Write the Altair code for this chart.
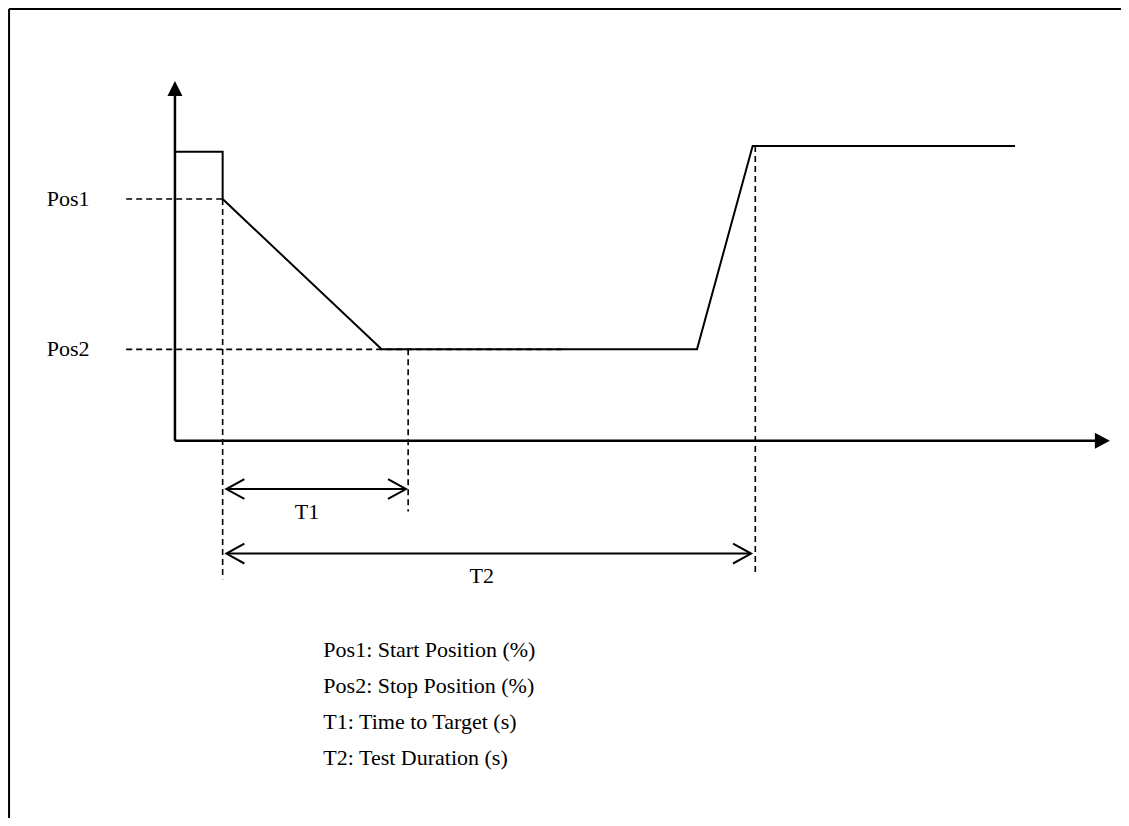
import altair as alt
import pandas as pd

# Diagram units: x = time (s), y = position (%)
X_DOMAIN = [-31.5, 178.5]
Y_DOMAIN = [-128.0, 146.8]

# signal trace
sig_t = [0, 9, 9, 39, 98.5, 109, 158.5]
sig_p = [98, 98, 82, 31, 31, 100, 100]

# solid rules: axes and frame
solid_x1 = [0, 0, -31.3, -31.3]
solid_x2 = [0, 174, 178.5, -31.3]
solid_y1 = [0, 0, 146.5, 146.5]
solid_y2 = [118, 0, 146.5, -128]
solid_w = [2.5, 2.5, 2, 2]

# dashed guide lines
dash_x1 = [-9.2, -9.2, 9, 44, 109.5]
dash_x2 = [9, 73, 9, 44, 109.5]
dash_y1 = [82, 31, 82, 31, 100]
dash_y2 = [82, 31, -47, -24, -44.5]

# axis arrowheads
head_x = [0, 176.4]
head_y = [122, 0]
head_shape = ["M0,0 L0.5,1 L-0.5,1 Z", "M0,0 L-1,-0.53 L-1,0.53 Z"]

# dimension arrows T1, T2
dim_y = [-16.4, -38.3]
dim_start = [9.7, 9.7]
dim_end = [43.6, 108.7]

# labels
lab_text = ["Pos1", "Pos2", "T1", "T2"]
lab_x = [-24.2, -24.2, 24.9, 57.9]
lab_y = [82, 31, -24.2, -45.9]
lab_align = ["left", "left", "center", "center"]

legend_text = [
    "Pos1: Start Position (%)",
    "Pos2: Stop Position (%)",
    "T1: Time to Target (s)",
    "T2: Test Duration (s)",
]
legend_x = 28.0
legend_y = [-71.0, -83.2, -95.5, -107.7]

FONT = "Liberation Serif"
FS = 22

xs = alt.Scale(domain=X_DOMAIN, nice=False, zero=False)
ys = alt.Scale(domain=Y_DOMAIN, nice=False, zero=False)

sig = pd.DataFrame({"t": sig_t, "p": sig_p, "i": list(range(len(sig_t)))})
line = alt.Chart(sig).mark_line(color="black", strokeWidth=2).encode(
    x=alt.X("t:Q", scale=xs, axis=None),
    y=alt.Y("p:Q", scale=ys, axis=None),
    order="i:O",
)

solid = pd.DataFrame({"x1": solid_x1, "x2": solid_x2, "y1": solid_y1, "y2": solid_y2, "w": solid_w})
solid_layers = []
for w in sorted(set(solid_w)):
    solid_layers.append(
        alt.Chart(solid[solid["w"] == w]).mark_rule(color="black", strokeWidth=w).encode(
            x=alt.X("x1:Q", scale=xs, axis=None), x2="x2:Q",
            y=alt.Y("y1:Q", scale=ys, axis=None), y2="y2:Q",
        )
    )

dash = pd.DataFrame({"x1": dash_x1, "x2": dash_x2, "y1": dash_y1, "y2": dash_y2})
dashed = alt.Chart(dash).mark_rule(color="black", strokeWidth=1.6, strokeDash=[6, 4]).encode(
    x=alt.X("x1:Q", scale=xs, axis=None), x2="x2:Q",
    y=alt.Y("y1:Q", scale=ys, axis=None), y2="y2:Q",
)

head_layers = []
for hx, hy, hs in zip(head_x, head_y, head_shape):
    head_layers.append(
        alt.Chart(pd.DataFrame({"x": [hx], "y": [hy]})).mark_point(
            shape=hs, filled=True, size=900, color="black", opacity=1, strokeWidth=0
        ).encode(x=alt.X("x:Q", scale=xs, axis=None), y=alt.Y("y:Q", scale=ys, axis=None))
    )

dims = pd.DataFrame({"y": dim_y, "a": dim_start, "b": dim_end})
dim_lines = alt.Chart(dims).mark_rule(color="black", strokeWidth=2).encode(
    x=alt.X("a:Q", scale=xs, axis=None), x2="b:Q",
    y=alt.Y("y:Q", scale=ys, axis=None),
)
left_heads = alt.Chart(dims).mark_point(
    shape="M1,-0.55 L0,0 L1,0.55", filled=False, size=1296, stroke="black", strokeWidth=2, opacity=1
).encode(x=alt.X("a:Q", scale=xs, axis=None), y=alt.Y("y:Q", scale=ys, axis=None))
right_heads = alt.Chart(dims).mark_point(
    shape="M-1,-0.55 L0,0 L-1,0.55", filled=False, size=1296, stroke="black", strokeWidth=2, opacity=1
).encode(x=alt.X("b:Q", scale=xs, axis=None), y=alt.Y("y:Q", scale=ys, axis=None))

text_layers = []
labs = pd.DataFrame({"txt": lab_text, "x": lab_x, "y": lab_y, "al": lab_align})
for al in ["left", "center"]:
    text_layers.append(
        alt.Chart(labs[labs["al"] == al]).mark_text(
            align=al, baseline="middle", font=FONT, fontSize=FS, color="black"
        ).encode(x=alt.X("x:Q", scale=xs, axis=None), y=alt.Y("y:Q", scale=ys, axis=None), text="txt:N")
    )

leg = pd.DataFrame({"txt": legend_text, "x": [legend_x] * len(legend_text), "y": legend_y})
text_layers.append(
    alt.Chart(leg).mark_text(
        align="left", baseline="middle", font=FONT, fontSize=FS, color="black"
    ).encode(x=alt.X("x:Q", scale=xs, axis=None), y=alt.Y("y:Q", scale=ys, axis=None), text="txt:N")
)

chart = alt.layer(
    *solid_layers, dashed, line, *head_layers, dim_lines, left_heads, right_heads, *text_layers
).properties(
    width=1113, height=810, padding=0, autosize=alt.AutoSizeParams(type="none")
).configure_view(stroke=None).configure(background="white")

chart.save("out.html", embed_options={"renderer": "svg", "actions": False})
